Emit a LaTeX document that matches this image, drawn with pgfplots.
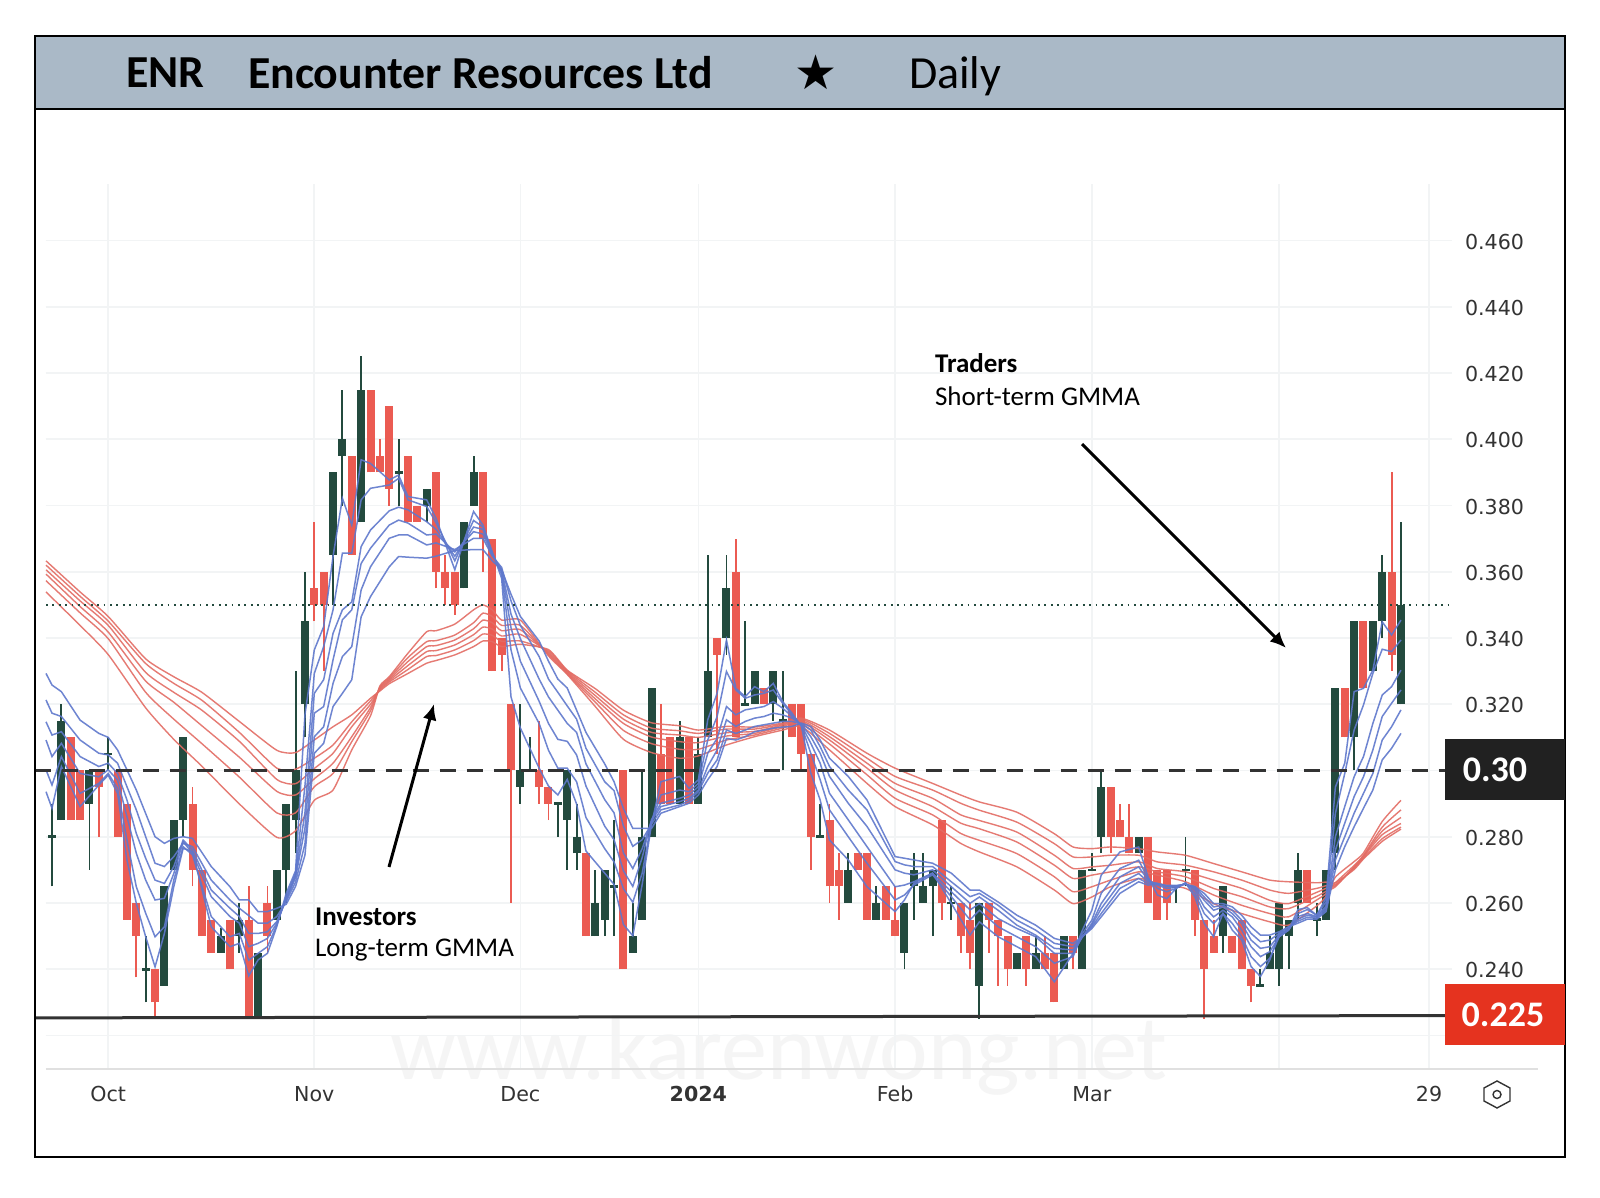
\documentclass[border=0pt]{standalone}
\usepackage{fontspec}
\setmainfont{DejaVu Sans}
\newfontfamily\carlito{Carlito}
\usepackage{pgfplots}
\usepackage{pgfplotstable}
\pgfplotsset{compat=1.18}
\usetikzlibrary{arrows.meta}

\definecolor{candledark}{HTML}{234A3E}
\definecolor{candlered}{HTML}{EB5B52}
\definecolor{mablue}{HTML}{5F78CC}
\definecolor{mared}{HTML}{E36C64}
\definecolor{headerbg}{HTML}{AAB9C7}
\definecolor{gridc}{HTML}{F2F4F5}
\definecolor{lblc}{HTML}{333333}
\definecolor{tagred}{HTML}{E5331F}

% i lo hi bot top
\pgfplotstableread{
i lo hi bot top
0 .265 .29 .2796 .2804
1 .285 .32 .285 .315
4 .27 .30 .29 .30
6 .30 .31 .3046 .3054
10 .23 .25 .2396 .2404
12 .235 .265 .235 .265
13 .27 .285 .27 .285
14 .28 .31 .285 .31
18 .245 .2525 .245 .25
20 .245 .26 .25 .255
22 .225 .245 .225 .245
24 .255 .27 .255 .27
25 .26 .29 .27 .29
26 .275 .33 .285 .30
27 .31 .36 .32 .345
30 .35 .39 .365 .39
31 .38 .415 .395 .40
33 .375 .425 .375 .415
37 .38 .40 .3896 .3904
40 .375 .385 .38 .385
44 .355 .375 .355 .375
45 .38 .395 .38 .39
50 .29 .32 .295 .30
51 .30 .31 .2996 .3004
54 .28 .29 .2896 .2904
55 .27 .30 .285 .30
56 .27 .29 .275 .28
58 .25 .27 .25 .26
59 .25 .27 .255 .27
60 .25 .285 .2646 .2654
62 .245 .26 .245 .25
63 .255 .30 .255 .28
64 .28 .325 .28 .325
67 .29 .315 .29 .31
69 .29 .31 .29 .305
70 .31 .365 .31 .33
72 .335 .365 .34 .355
74 .32 .345 .3196 .3204
75 .32 .33 .32 .33
77 .315 .33 .32 .33
78 .30 .33 .3146 .3154
82 .28 .29 .2796 .2804
85 .26 .275 .26 .27
88 .255 .265 .255 .26
91 .24 .26 .245 .26
92 .255 .275 .265 .27
93 .26 .275 .26 .265
94 .25 .27 .265 .27
96 .255 .265 .2596 .2604
99 .225 .26 .235 .26
103 .24 .245 .24 .245
105 .24 .25 .24 .245
108 .24 .25 .24 .25
110 .24 .27 .24 .27
111 .27 .275 .2696 .2704
112 .275 .30 .28 .295
116 .275 .28 .275 .28
120 .26 .265 .2646 .2654
121 .265 .28 .2696 .2704
125 .245 .265 .25 .265
129 .235 .24 .2346 .2354
130 .24 .25 .24 .245
131 .235 .26 .24 .26
132 .24 .255 .25 .255
133 .255 .275 .26 .27
135 .25 .26 .2546 .2554
136 .255 .27 .255 .27
137 .27 .325 .275 .325
139 .30 .345 .31 .345
141 .33 .345 .33 .345
142 .34 .365 .345 .36
144 .32 .375 .32 .35
}\darkcandles

\pgfplotstableread{
i lo hi bot top
2 .285 .31 .285 .31
3 .285 .30 .285 .30
5 .28 .30 .295 .30
7 .28 .30 .28 .30
8 .255 .29 .255 .29
9 .2375 .26 .25 .26
11 .225 .24 .23 .24
15 .265 .295 .27 .29
16 .25 .27 .25 .27
17 .245 .255 .245 .255
19 .24 .255 .24 .255
21 .225 .265 .225 .255
23 .245 .265 .25 .26
28 .345 .375 .35 .355
29 .33 .36 .35 .36
32 .365 .395 .365 .395
34 .39 .415 .39 .415
35 .39 .40 .39 .395
36 .38 .41 .385 .41
38 .375 .395 .375 .395
39 .375 .38 .375 .38
41 .355 .39 .36 .39
42 .35 .365 .355 .36
43 .347 .36 .35 .36
46 .36 .39 .37 .39
47 .33 .37 .33 .37
48 .33 .34 .335 .34
49 .26 .32 .30 .32
52 .29 .315 .295 .30
53 .285 .295 .29 .295
57 .25 .275 .25 .275
61 .24 .30 .24 .30
65 .29 .32 .29 .305
66 .29 .31 .29 .31
68 .29 .31 .29 .31
71 .305 .34 .335 .34
73 .31 .37 .31 .36
76 .32 .325 .32 .325
79 .31 .32 .31 .32
80 .30 .32 .305 .32
81 .27 .305 .28 .305
83 .26 .29 .265 .285
84 .255 .275 .265 .27
86 .27 .275 .27 .275
87 .255 .275 .255 .275
89 .255 .265 .255 .265
90 .25 .265 .25 .255
95 .255 .285 .26 .285
97 .245 .26 .25 .26
98 .24 .26 .245 .255
100 .245 .26 .255 .26
101 .235 .255 .25 .255
102 .235 .25 .24 .25
104 .235 .25 .24 .25
106 .24 .25 .24 .245
107 .23 .245 .23 .245
109 .24 .25 .245 .25
113 .275 .295 .28 .295
114 .28 .29 .28 .285
115 .275 .29 .275 .28
117 .26 .28 .26 .28
118 .255 .27 .255 .27
119 .255 .27 .26 .27
122 .25 .27 .255 .27
123 .225 .255 .24 .255
124 .245 .255 .245 .25
126 .245 .25 .245 .25
127 .24 .255 .24 .255
128 .23 .24 .235 .24
134 .26 .27 .26 .27
138 .31 .325 .31 .325
140 .325 .345 .325 .345
143 .33 .39 .335 .36
}\redcandles

% short-term GMMA, b1 fastest
\pgfplotstableread{
i b1 b2 b3 b4 b5 b6
-0.64 .2936 .3002 .3092 .3147 .3213 .3293
0 .2886 .2956 .3042 .3107 .3173 .3258
1 .3012 .3042 .3082 .3117 .3163 .3238
3 .2891 .2931 .2991 .3042 .3092 .3152
5 .2956 .2961 .2981 .3012 .3052 .3112
6 .2986 .2991 .3002 .3022 .3047 .3100
7 .2931 .2946 .2971 .2991 .3022 .3062
8 .2730 .2790 .2861 .2911 .2951 .3002
9 .2599 .2649 .2750 .2810 .2881 .2941
10 .2498 .2569 .2669 .2735 .2800 .2870
11 .2407 .2498 .2609 .2669 .2720 .2800
12 .2508 .2528 .2614 .2659 .2710 .2780
13 .2649 .2669 .2689 .2710 .2740 .2795
14 .2765 .2770 .2785 .2790 .2780 .2800
15 .2755 .2745 .2750 .2760 .2770 .2795
17 .2528 .2559 .2619 .2639 .2669 .2710
19 .2468 .2498 .2559 .2584 .2609 .2649
20 .2478 .2508 .2539 .2559 .2584 .2609
21 .2380 .2427 .2468 .2508 .2562 .2609
22 .2428 .2448 .2478 .2508 .2539 .2574
23 .2448 .2468 .2493 .2513 .2539 .2574
24 .2529 .2534 .2539 .2544 .2559 .2584
25 .2629 .2619 .2613 .2609 .2605 .2596
26 .2697 .2690 .2683 .2677 .2663 .2650
27 .3168 .2953 .2872 .2825 .2778 .2744
28 .3364 .3293 .3233 .3173 .3102 .3052
29 .3434 .3374 .3274 .3193 .3132 .3082
30 .3646 .3485 .3414 .3334 .3263 .3193
31 .3822 .3656 .3485 .3455 .3344 .3233
32 .3741 .3656 .3509 .3485 .3374 .3274
33 .3938 .3817 .3676 .3625 .3545 .3464
34 .3927 .3852 .3726 .3671 .3615 .3525
36 .3877 .3862 .3784 .3741 .3701 .3615
37 .3892 .3882 .3795 .3756 .3711 .3646
38 .3827 .3817 .3787 .3747 .3711 .3644
40 .3817 .3797 .3751 .3711 .3681 .3641
41 .3761 .3748 .3728 .3714 .3687 .3647
43 .3606 .3633 .3647 .3660 .3667 .3664
45 .3782 .3755 .3735 .3721 .3701 .3667
46 .3741 .3735 .3728 .3714 .3701 .3667
47 .3660 .3656 .3654 .3651 .3647 .3633
48 .3580 .3593 .3600 .3606 .3613 .3606
49 .3222 .3364 .3431 .3472 .3512 .3532
50 .3128 .3249 .3330 .3398 .3438 .3465
52 .3007 .3142 .3209 .3276 .3344 .3391
53 .2953 .3061 .3142 .3222 .3276 .3330
54 .2926 .3007 .3094 .3182 .3236 .3276
55 .2973 .3007 .3088 .3142 .3195 .3249
56 .2899 .2966 .3047 .3115 .3155 .3182
57 .2757 .2858 .2953 .3020 .3067 .3115
59 .2690 .2764 .2832 .2912 .2966 .3020
60 .2656 .2724 .2791 .2872 .2939 .2966
61 .2535 .2643 .2697 .2751 .2832 .2885
62 .2501 .2602 .2650 .2704 .2771 .2825
63 .2656 .2690 .2737 .2764 .2791 .2825
64 .2838 .2845 .2852 .2848 .2838 .2825
65 .2966 .2926 .2901 .2891 .2881 .2871
67 .2982 .2941 .2916 .2906 .2896 .2891
68 .2946 .2936 .2926 .2916 .2909 .2901
69 .2972 .2961 .2951 .2941 .2936 .2926
70 .3153 .3092 .3052 .3012 .2992 .2972
71 .3233 .3163 .3097 .3062 .3032 .3012
72 .3394 .3299 .3193 .3153 .3122 .3097
73 .3248 .3243 .3168 .3133 .3112 .3092
74 .3223 .3218 .3183 .3148 .3122 .3102
75 .3253 .3228 .3188 .3158 .3133 .3117
76 .3238 .3233 .3193 .3163 .3138 .3122
77 .3263 .3243 .3208 .3173 .3143 .3128
78 .3208 .3203 .3188 .3168 .3148 .3131
79 .3173 .3168 .3163 .3158 .3148 .3133
80 .3133 .3135 .3137 .3139 .3141 .3143
81 .2992 .3052 .3082 .3102 .3122 .3133
82 .2911 .2972 .3022 .3052 .3072 .3092
83 .2790 .2881 .2931 .2982 .3012 .3037
85 .2730 .2800 .2851 .2901 .2941 .2982
87 .2649 .2720 .2770 .2831 .2881 .2911
90 .2574 .2609 .2649 .2700 .2725 .2740
91 .2609 .2624 .2654 .2690 .2715 .2735
92 .2659 .2654 .2664 .2685 .2710 .2730
94 .2690 .2685 .2690 .2700 .2710 .2720
96 .2599 .2619 .2634 .2649 .2664 .2690
98 .2503 .2549 .2579 .2599 .2619 .2639
99 .2543 .2578 .2598 .2618 .2629 .2639
101 .2498 .2528 .2553 .2578 .2593 .2603
103 .2468 .2498 .2523 .2533 .2548 .2563
105 .2438 .2468 .2498 .2503 .2518 .2533
107 .2362 .2418 .2448 .2463 .2478 .2493
109 .2448 .2438 .2448 .2458 .2468 .2478
110 .2518 .2508 .2498 .2498 .2498 .2498
111 .2578 .2548 .2538 .2533 .2528 .2523
112 .2684 .2629 .2598 .2583 .2568 .2558
114 .2754 .2704 .2679 .2659 .2644 .2629
116 .2769 .2729 .2709 .2689 .2674 .2664
117 .2679 .2674 .2669 .2664 .2659 .2654
118 .2624 .2644 .2654 .2659 .2659 .2657
119 .2613 .2634 .2644 .2649 .2651 .2653
120 .2644 .2644 .2647 .2649 .2651 .2653
121 .2661 .2660 .2659 .2658 .2657 .2656
122 .2618 .2629 .2639 .2644 .2649 .2649
123 .2538 .2568 .2588 .2608 .2618 .2629
124 .2498 .2538 .2558 .2578 .2588 .2598
125 .2568 .2568 .2578 .2588 .2593 .2598
126 .2518 .2538 .2558 .2568 .2578 .2588
127 .2488 .2498 .2518 .2538 .2548 .2563
128 .2408 .2438 .2468 .2488 .2508 .2528
129 .2378 .2408 .2438 .2463 .2483 .2503
130 .2428 .2433 .2453 .2468 .2488 .2503
131 .2508 .2498 .2498 .2503 .2508 .2513
132 .2518 .2518 .2518 .2523 .2528 .2528
133 .2580 .2568 .2559 .2551 .2545 .2539
134 .2586 .2580 .2568 .2563 .2557 .2551
135 .2563 .2563 .2559 .2557 .2554 .2551
136 .2615 .2603 .2591 .2586 .2580 .2574
137 .2950 .2871 .2800 .2760 .2730 .2700
138 .3022 .2991 .2891 .2841 .2800 .2770
139 .3238 .3122 .2981 .2921 .2871 .2830
140 .3248 .3198 .3042 .2981 .2931 .2886
141 .3303 .3293 .3142 .3062 .2991 .2941
142 .3449 .3366 .3228 .3163 .3092 .3032
143 .3409 .3359 .3253 .3203 .3132 .3067
144 .3454 .3394 .3303 .3243 .3183 .3112
}\shortgmma

% long-term GMMA, r1 slowest
\pgfplotstableread{
i r1 r2 r3 r4 r5 r6
-0.64 .3633 .3620 .3606 .3593 .3573 .3539
3 .3539 .3526 .3512 .3495 .3476 .3438
6 .3465 .3451 .3438 .3418 .3398 .3350
10 .3337 .3323 .3296 .3270 .3236 .3189
13 .3283 .3263 .3236 .3206 .3155 .3094
16 .3236 .3212 .3182 .3135 .3081 .3013
20 .3148 .3115 .3088 .3040 .2980 .2899
24 .3061 .3007 .2973 .2937 .2872 .2798
26 .3054 .3004 .2960 .2926 .2872 .2818
28 .3092 .3037 .3006 .2975 .2951 .2910
30 .3132 .3077 .3052 .3022 .2991 .2941
32 .3168 .3147 .3132 .3102 .3087 .3062
34 .3218 .3210 .3200 .3190 .3180 .3165
35 .3240 .3243 .3246 .3249 .3252 .3255
36 .3262 .3267 .3271 .3275 .3279 .3283
38 .3293 .3305 .3317 .3329 .3341 .3354
40 .3324 .3344 .3359 .3374 .3389 .3419
41 .3332 .3347 .3362 .3377 .3392 .3422
43 .3349 .3364 .3379 .3394 .3409 .3442
45 .3374 .3392 .3410 .3428 .3446 .3485
46 .3391 .3412 .3433 .3454 .3475 .3500
47 .3389 .3408 .3427 .3446 .3465 .3485
48 .3374 .3390 .3406 .3422 .3438 .3454
50 .3381 .3391 .3411 .3425 .3438 .3454
53 .3365 .3361 .3357 .3353 .3350 .3346
55 .3303 .3301 .3298 .3295 .3292 .3290
58 .3247 .3236 .3226 .3216 .3206 .3193
61 .3182 .3168 .3155 .3142 .3121 .3094
64 .3144 .3128 .3115 .3101 .3081 .3054
67 .3135 .3120 .3107 .3087 .3064 .3037
69 .3122 .3112 .3100 .3084 .3064 .3044
72 .3133 .3125 .3114 .3104 .3092 .3077
75 .3131 .3125 .3118 .3112 .3107 .3102
78 .3143 .3140 .3137 .3133 .3128 .3122
80 .3158 .3155 .3151 .3147 .3141 .3133
83 .3122 .3112 .3102 .3092 .3080 .3062
87 .3052 .3037 .3022 .3007 .2987 .2961
90 .3007 .2982 .2961 .2941 .2916 .2891
94 .2961 .2941 .2916 .2891 .2866 .2836
97 .2926 .2901 .2866 .2841 .2810 .2780
99 .2905 .2880 .2849 .2824 .2789 .2754
103 .2874 .2844 .2814 .2784 .2749 .2709
107 .2809 .2779 .2744 .2714 .2679 .2639
109 .2769 .2739 .2704 .2674 .2634 .2598
111 .2764 .2739 .2709 .2684 .2649 .2618
113 .2769 .2744 .2714 .2694 .2669 .2649
116 .2764 .2744 .2724 .2709 .2694 .2674
118 .2754 .2724 .2704 .2694 .2684 .2659
121 .2744 .2714 .2694 .2679 .2664 .2644
124 .2719 .2694 .2669 .2644 .2624 .2598
127 .2694 .2669 .2644 .2619 .2593 .2568
130 .2669 .2639 .2608 .2588 .2568 .2543
132 .2664 .2629 .2598 .2583 .2558 .2533
135 .2661 .2644 .2632 .2620 .2609 .2591
136 .2663 .2652 .2644 .2635 .2628 .2620
137 .2661 .2655 .2652 .2649 .2661 .2678
139 .2701 .2705 .2707 .2709 .2713 .2725
140 .2733 .2736 .2740 .2742 .2744 .2751
142 .2786 .2794 .2806 .2817 .2829 .2846
144 .2823 .2829 .2840 .2858 .2881 .2910
}\longgmma

\newcommand{\candles}[2]{%
  % wicks, then bodies, both as one-sided error bars
  \addplot[draw=none,mark=none,forget plot,
    error bars/.cd,y dir=plus,y explicit,error mark=none,
    error bar style={draw=#2,line width=0.95pt}]
    table[x=i,y=lo,y error plus expr=\thisrow{hi}-\thisrow{lo}]{#1};
  \addplot[draw=none,mark=none,forget plot,
    error bars/.cd,y dir=plus,y explicit,error mark=none,
    error bar style={draw=#2,line width=4pt}]
    table[x=i,y=bot,y error plus expr=\thisrow{top}-\thisrow{bot}]{#1};
}

\begin{document}
\begin{tikzpicture}
% page in reference pixels: 1 px = 0.5pt, origin top left
\path[use as bounding box] (-23pt,-64.5pt) rectangle (777pt,534.5pt);
\begin{scope}[x=0.5pt,y=-0.5pt,shift={(-23pt,534.5pt)}]
  \fill[white] (0,0) rectangle (1600,1198);
  \node[anchor=center,text=black!4,font=\carlito\fontsize{46}{50}\selectfont] at (779,1055) {www.karenwong.net};
\end{scope}

\begin{axis}[
  at={(0,0)},anchor=south west,
  scale only axis,width=703pt,height=442.5pt,
  xmin=-0.6405,xmax=149.45,ymin=0.20987,ymax=0.47708,
  clip=false,
  axis line style={draw=none},
  tick style={draw=none},
  grid=major,
  grid style={gridc,line width=0.8pt},
  xtick={6,28,50,69,90,111,131,147},
  xticklabels={Oct,Nov,Dec,\textbf{2024},Feb,Mar,,29},
  ytick={0.22,0.24,0.26,0.28,0.30,0.32,0.34,0.36,0.38,0.40,0.42,0.44,0.46},
  % 0.300 sits behind the black price tag
  yticklabels={,0.240,0.260,0.280,,0.320,0.340,0.360,0.380,0.400,0.420,0.440,0.460},
  yticklabel pos=right,
  ticklabel style={font=\fontsize{10.3}{12}\selectfont,text=lblc},
  yticklabel style={anchor=west,xshift=3pt,yshift=-0.5pt},
  xticklabel style={anchor=center,yshift=-12.6pt},
]
\candles{\redcandles}{candlered}
\candles{\darkcandles}{candledark}

\pgfplotsinvokeforeach{r1,r2,r3,r4,r5,r6}{
  \addplot[mared,line width=0.7pt,opacity=0.9,forget plot,smooth,tension=0.35] table[x=i,y=#1]{\longgmma};
}
\pgfplotsinvokeforeach{b1,b2,b3,b4,b5,b6}{
  \addplot[mablue,line width=0.75pt,opacity=0.9,forget plot] table[x=i,y=#1]{\shortgmma};
}

% dotted 0.35, dashed 0.30, support 0.225
\addplot[candledark,line width=0.8pt,dash pattern=on 0.9pt off 2.3pt,forget plot] coordinates {(-0.64,0.35) (149.4,0.35)};
\addplot[lblc,line width=1.6pt,dash pattern=on 8pt off 5.5pt,forget plot] coordinates {(-1.85,0.30) (148.7,0.30)};
\addplot[lblc,line width=1.5pt,forget plot] coordinates {(-1.85,0.2253) (148.7,0.2260)};
\end{axis}

\begin{scope}[x=0.5pt,y=-0.5pt,shift={(-23pt,534.5pt)}]
  % header band and frame
  \fill[headerbg] (35,36) rectangle (1565,109);
  \draw[black,line width=1pt] (35,109) -- (1565,109);
  \draw[black,line width=1pt] (35,36) rectangle (1565,1157);
  \node[anchor=west,font=\carlito\bfseries\fontsize{22.9}{26}\selectfont] at (119,73) {ENR};
  \node[anchor=west,font=\carlito\bfseries\fontsize{22.9}{26}\selectfont] at (241,73) {Encounter Resources Ltd};
  \node[anchor=center,font=\fontsize{24}{28}\selectfont] at (816,72) {★};
  \node[anchor=west,font=\carlito\fontsize{23}{26}\selectfont] at (902,76) {Daily};
  % axis base line
  \draw[black!12,line width=0.8pt] (46,1069) -- (1538,1069);
  % price tags
  \fill[black!87] (1445,739) rectangle (1565,800);
  \node[text=white,font=\carlito\bfseries\fontsize{18}{20}\selectfont] at (1495,770) {0.30};
  \fill[tagred] (1445,984) rectangle (1565,1045);
  \node[text=white,font=\carlito\bfseries\fontsize{18}{20}\selectfont] at (1503,1015) {0.225};
  % annotations
  \node[anchor=west,font=\carlito\bfseries\fontsize{13.5}{15}\selectfont] at (308,917) {Investors};
  \node[anchor=west,font=\carlito\fontsize{13.5}{15}\selectfont] at (308,950) {Long-term GMMA};
  \node[anchor=west,font=\carlito\bfseries\fontsize{13.5}{15}\selectfont] at (928,363) {Traders};
  \node[anchor=west,font=\carlito\fontsize{13.5}{15}\selectfont] at (928,396) {Short-term GMMA};
  \draw[line width=1.5pt,-{Latex[length=8pt,width=7pt]}] (389,867) -- (434,704);
  \draw[line width=1.5pt,-{Latex[length=8pt,width=7pt]}] (1082,444) -- (1286,648);
  % settings icon
  \draw[lblc,line width=0.7pt] (1497,1081) -- (1510,1088) -- (1510,1101) -- (1497,1108) -- (1484,1101) -- (1484,1088) -- cycle;
  \draw[lblc,line width=0.7pt] (1497,1094.5) circle (4);
\end{scope}
\end{tikzpicture}
\end{document}
